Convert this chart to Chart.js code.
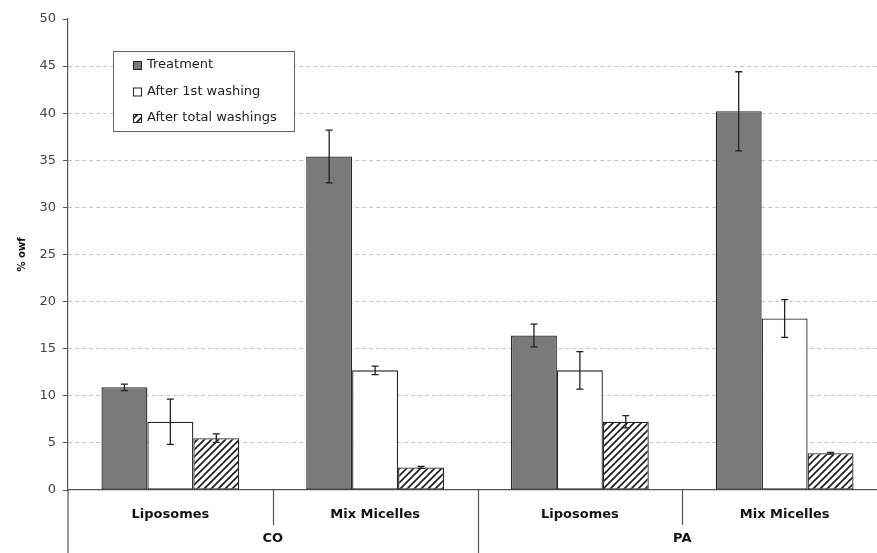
<!DOCTYPE html>
<html>
<head>
<meta charset="utf-8">
<script src="https://cdn.jsdelivr.net/npm/chart.js@4"></script>
<style>
  html, body { margin: 0; padding: 0; background: #fff; overflow: hidden; }
  #wrap { width: 887px; height: 553px; }
</style>
</head>
<body>
<div id="wrap"><canvas id="chart" width="887" height="553"></canvas></div>
<script>
// categories (two-level x axis)
const categories = ["Liposomes", "Mix Micelles", "Liposomes", "Mix Micelles"];
const groups = ["CO", "PA"];
const seriesLabels = ["Treatment", "After 1st washing", "After total washings"];

// % owf values and error bar half-widths
const treatment = [10.9, 35.4, 16.4, 40.2];
const treatmentErr = [0.35, 2.8, 1.2, 4.2];
const firstWashing = [7.25, 12.7, 12.7, 18.2];
const firstWashingErr = [2.4, 0.45, 2.0, 2.0];
const totalWashings = [5.5, 2.4, 7.25, 3.9];
const totalWashingsErr = [0.45, 0.1, 0.65, 0.1];

const yMin = 0, yMax = 50, yStep = 5;

const FONT = "'DejaVu Sans', 'Liberation Sans', sans-serif";

function makeHatch() {
  const s = 7;
  const c = document.createElement("canvas");
  c.width = s; c.height = s;
  const g = c.getContext("2d");
  g.fillStyle = "#fff";
  g.fillRect(0, 0, s, s);
  g.strokeStyle = "#1a1a1a";
  g.lineWidth = 1.6;
  g.beginPath();
  g.moveTo(0, s); g.lineTo(s, 0);
  g.moveTo(-2, 2); g.lineTo(2, -2);
  g.moveTo(s - 2, s + 2); g.lineTo(s + 2, s - 2);
  g.stroke();
  return document.getElementById("chart").getContext("2d").createPattern(c, "repeat");
}

const hatch = makeHatch();
const errors = [treatmentErr, firstWashingErr, totalWashingsErr];

// error bars drawn on top of the bars
const errorBars = {
  id: "errorBars",
  afterDatasetsDraw(chart) {
    const ctx = chart.ctx;
    const y = chart.scales.y;
    ctx.save();
    ctx.strokeStyle = "#222";
    ctx.lineWidth = 1.3;
    chart.data.datasets.forEach((ds, i) => {
      const meta = chart.getDatasetMeta(i);
      meta.data.forEach((bar, j) => {
        const v = ds.data[j], e = errors[i][j];
        const top = y.getPixelForValue(v + e);
        const bot = y.getPixelForValue(v - e);
        ctx.beginPath();
        ctx.moveTo(bar.x, top); ctx.lineTo(bar.x, bot);
        ctx.moveTo(bar.x - 3.5, top); ctx.lineTo(bar.x + 3.5, top);
        ctx.moveTo(bar.x - 3.5, bot); ctx.lineTo(bar.x + 3.5, bot);
        ctx.stroke();
      });
    });
    ctx.restore();
  }
};

// second level of the x axis, separators, and legend box
const axisExtras = {
  id: "axisExtras",
  afterDraw(chart) {
    const ctx = chart.ctx;
    const x = chart.scales.x;
    const area = chart.chartArea;
    const H = chart.height;
    const half = (x.getPixelForValue(1) - x.getPixelForValue(0)) / 2;
    ctx.save();
    ctx.strokeStyle = "#555";
    ctx.lineWidth = 1.2;
    // y axis continues down through the label rows
    ctx.beginPath();
    ctx.moveTo(area.left, area.bottom); ctx.lineTo(area.left, H);
    ctx.stroke();
    // separators between categories
    for (let i = 1; i < categories.length; i++) {
      const sx = Math.round(x.getPixelForValue(i) - half) + 0.5;
      const long = i % 2 === 0;
      ctx.beginPath();
      ctx.moveTo(sx, area.bottom);
      ctx.lineTo(sx, long ? H : area.bottom + 35);
      ctx.stroke();
    }
    // group labels
    ctx.fillStyle = "#111";
    ctx.font = "bold 13px " + FONT;
    ctx.textAlign = "center";
    ctx.textBaseline = "middle";
    groups.forEach((g, k) => {
      const cx = (x.getPixelForValue(2 * k) + x.getPixelForValue(2 * k + 1)) / 2;
      ctx.fillText(g, cx, area.bottom + 49);
    });

    // legend
    const lx = 113, ly = 51, lw = 181, lh = 80;
    ctx.fillStyle = "#fff";
    ctx.fillRect(lx, ly, lw, lh);
    ctx.strokeStyle = "#666";
    ctx.lineWidth = 1;
    ctx.strokeRect(lx + 0.5, ly + 0.5, lw, lh);
    ctx.font = "13px " + FONT;
    ctx.textAlign = "left";
    chart.data.datasets.forEach((ds, i) => {
      const rowY = ly + 14 + i * 26.5;
      ctx.fillStyle = ds.backgroundColor;
      ctx.fillRect(133, rowY - 4, 9, 9);
      ctx.strokeStyle = "#222";
      ctx.strokeRect(133.5, rowY - 3.5, 8, 8);
      ctx.fillStyle = "#222";
      ctx.fillText(ds.label, 147, rowY);
    });
    ctx.restore();
  }
};

new Chart(document.getElementById("chart"), {
  type: "bar",
  data: {
    labels: categories,
    datasets: [
      { label: seriesLabels[0], data: treatment, backgroundColor: "#7a7a7a" },
      { label: seriesLabels[1], data: firstWashing, backgroundColor: "#ffffff" },
      { label: seriesLabels[2], data: totalWashings, backgroundColor: hatch }
    ].map(d => Object.assign(d, {
      borderColor: "#262626",
      borderWidth: 1.3,
      borderSkipped: false,
      categoryPercentage: 0.673,
      barPercentage: 1.0
    }))
  },
  options: {
    responsive: false,
    animation: false,
    layout: { padding: { top: 19, right: 0, left: 0, bottom: 0 } },
    plugins: {
      legend: { display: false },
      tooltip: { enabled: false }
    },
    scales: {
      x: {
        grid: { display: false },
        border: { color: "#555", width: 1.2 },
        ticks: {
          color: "#111",
          font: { family: FONT, size: 13, weight: "bold" },
          padding: 9,
          maxRotation: 0
        },
        afterFit: (scale) => { scale.height = 63; }
      },
      y: {
        min: yMin,
        max: yMax,
        ticks: {
          stepSize: yStep,
          color: "#444",
          font: { family: FONT, size: 13 },
          padding: 7
        },
        grid: {
          color: (c) => (c.tick && (c.tick.value === yMin || c.tick.value === yMax)) ? "rgba(0,0,0,0)" : "#c4c4c4",
          tickColor: "#555",
          tickLength: 5,
          lineWidth: 1
        },
        border: { color: "#555", width: 1.2, dash: [4, 3] },
        title: {
          display: true,
          text: "% owf",
          color: "#111",
          font: { family: FONT, size: 10, weight: "bold" },
          padding: { top: 16, bottom: 0 }
        },
        afterFit: (scale) => { scale.width = 68; }
      }
    }
  },
  plugins: [errorBars, axisExtras]
});
</script>
</body>
</html>
